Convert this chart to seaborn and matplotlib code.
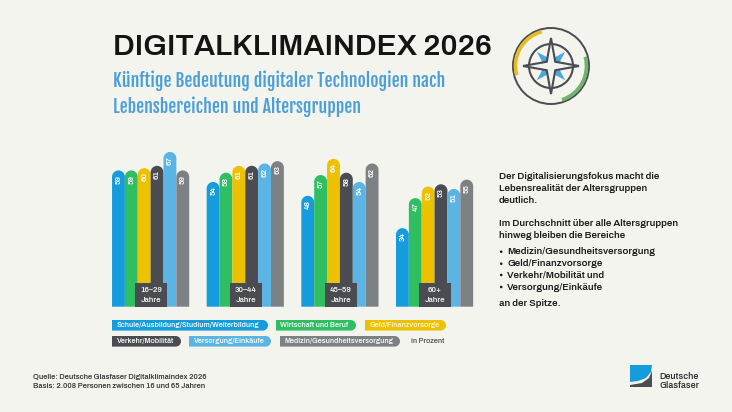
import matplotlib
matplotlib.use("Agg")
import numpy as np, pandas as pd
import matplotlib.pyplot as plt
import seaborn as sns
from matplotlib.path import Path
from matplotlib.patches import PathPatch, Circle, Arc, Rectangle, Polygon

ages = ["16–29", "30–44", "45–59", "60+"]
schule = [59, 54, 48, 34]
wirtschaft = [59, 58, 57, 47]
geld = [60, 61, 64, 52]
verkehr = [61, 61, 58, 53]
versorgung = [67, 62, 54, 51]
medizin = [59, 63, 62, 55]
names = ["Schule/Ausbildung/Studium/Weiterbildung", "Wirtschaft und Beruf", "Geld/Finanzvorsorge",
         "Verkehr/Mobilität", "Versorgung/Einkäufe", "Medizin/Gesundheitsversorgung"]
colors = ["#159cdc", "#2fbf62", "#edc100", "#4a4c51", "#5ab5e5", "#7e8184"]
BG = "#f4f4ef"; DARK = "#4a4c51"

sns.set_theme(style="white")
MAIN = ["Archivo", "Inter", "DejaVu Sans"]
plt.rcParams["font.family"] = MAIN

df = pd.DataFrame({"Alter": np.repeat(ages, 6),
                   "Bereich": names * 4,
                   "Wert": np.array([schule, wirtschaft, geld, verkehr, versorgung, medizin]).T.ravel()})

fig = plt.figure(figsize=(7.32, 4.12), dpi=100, facecolor=BG)
W, H = 732, 412
x0, x1, base = 103.3, 481.9, 306.7
ymax = 70; pxu = 2.31
ax = fig.add_axes([x0 / W, (H - base) / H, (x1 - x0) / W, ymax * pxu / H])
sns.barplot(data=df, x="Alter", y="Wert", hue="Bereich", hue_order=names, palette=colors,
            order=ages, saturation=1, width=0.8155, gap=0, legend=False, ax=ax, errorbar=None)
ax.set_xlim(-0.5, 3.5); ax.set_ylim(0, ymax)
ax.axis("off")
sx = (x1 - x0) / 4; sy = pxu

def round_top(x, w, h):
    rx = w / 2; ry = rx * sx / sy; k = 0.5523
    v = [(x, 0), (x, h - ry), (x, h - ry + k * ry), (x + rx - k * rx, h), (x + rx, h),
         (x + rx + k * rx, h), (x + w, h - ry + k * ry), (x + w, h - ry), (x + w, 0), (x, 0)]
    c = [Path.MOVETO, Path.LINETO, Path.CURVE4, Path.CURVE4, Path.CURVE4,
         Path.CURVE4, Path.CURVE4, Path.CURVE4, Path.LINETO, Path.CLOSEPOLY]
    return Path(v, c)

for b in list(ax.patches):
    x, w, h = b.get_x(), b.get_width(), b.get_height()
    if h == 0:
        continue
    fc = b.get_facecolor()
    b.set_visible(False)
    ax.add_patch(PathPatch(round_top(x, w, h), fc=fc, ec="none", lw=0, zorder=2))
    ax.text(x + w / 2, h - 8.6 / sy, f"{int(h)}", rotation=90, ha="center", va="center",
            color="white", fontsize=5.6, fontweight="semibold", zorder=3)

ov = fig.add_axes([0, 0, 1, 1], facecolor="none")
ov.set_xlim(0, W); ov.set_ylim(H, 0); ov.axis("off")
rend = fig.canvas.get_renderer()

def fit_size(s, width, **kw):
    t = ov.text(0, 0, s, fontsize=10, **kw)
    w = t.get_window_extent(rend).width
    t.remove()
    return 10 * width / w

# age boxes
for cx, a in zip([151, 246, 341, 435], ages):
    ov.add_patch(Rectangle((cx - 16.2, 282.7), 32.4, 24, fc=DARK, ec="none"))
    ov.text(cx, 289.7, a, ha="center", va="center", color="#f0f0f0", fontsize=5.6)
    ov.text(cx, 299.5, "Jahre", ha="center", va="center", color="#f0f0f0", fontsize=5.6)

# titles
title = "DIGITALKLIMAINDEX 2026"
ov.text(113, 55, title, fontsize=fit_size(title, 377, fontweight="bold"), fontweight="bold", color="#141414", va="baseline")
sub1, sub2 = "Künftige Bedeutung digitaler Technologien nach", "Lebensbereichen und Altersgruppen"
SUBF = ["Fjalla One", "Roboto", "DejaVu Sans"]
ss = fit_size(sub1, 330, family=SUBF)
ov.text(113, 86.5, sub1, family=SUBF, fontsize=ss, color="#4a9fd9", va="baseline")
ov.text(113, 113, sub2, family=SUBF, fontsize=ss, color="#4a9fd9", va="baseline")

# legend pills
def pill(x, y, w, h, c):
    r = h / 2; k = 0.5523
    v = [(x, y), (x + w - r, y), (x + w - r + k * r, y), (x + w, y + r - k * r), (x + w, y + r),
         (x + w, y + r + k * r), (x + w - r + k * r, y + h), (x + w - r, y + h), (x, y + h), (x, y)]
    cd = [Path.MOVETO, Path.LINETO, Path.CURVE4, Path.CURVE4, Path.CURVE4,
          Path.CURVE4, Path.CURVE4, Path.CURVE4, Path.LINETO, Path.CLOSEPOLY]
    ov.add_patch(PathPatch(Path(v, cd), fc=c, ec="none"))

ls = fit_size(names[0], 142)
spans = [(112, 268, 320), (276, 356, 320), (365, 446, 320), (112, 181, 336), (189, 271, 336), (280, 400, 336)]
for (a, b, y), n, c in zip(spans, names, colors):
    pill(a, y, b - a, 10.6, c)
    ov.text(a + 4.5, y + 5.4, n, color="#f2f6f4" if c != "#edc100" else "#fff6cf", fontsize=ls, va="center")
ov.text(411, 341.4, "in Prozent", color="#55575b", fontsize=ls, va="center")

# right text
TXT = "#1e1e1e"
lines = [(176.7, "Der Digitalisierungsfokus macht die", 499), (188.3, "Lebensrealität der Altersgruppen", 499),
         (200, "deutlich.", 499), (223.3, "Im Durchschnitt über alle Altersgruppen", 499),
         (235.7, "hinweg bleiben die Bereiche", 499), (251.7, "Medizin/Gesundheitsversorgung", 507),
         (263.7, "Geld/Finanzvorsorge", 507), (275, "Verkehr/Mobilität und", 507),
         (287, "Versorgung/Einkäufe", 507), (303.3, "an der Spitze.", 499)]
bs = fit_size(lines[3][1], 177.5, fontweight="medium")
for y, s, x in lines:
    ov.text(x, y, s, fontsize=bs, fontweight="medium", color=TXT, va="center")
for y in [251.7, 263.7, 275, 287]:
    ov.add_patch(Circle((501.2, y), 1.3, fc=TXT, ec="none"))

# source
q1, q2 = "Quelle: Deutsche Glasfaser Digitalklimaindex 2026", "Basis: 2.008 Personen zwischen 16 und 65 Jahren"
qs = fit_size(q1, 174, fontweight="medium")
ov.text(33, 376.7, q1, fontsize=qs, fontweight="medium", color="#3a3a3a", va="center")
ov.text(33, 386, q2, fontsize=qs, fontweight="medium", color="#3a3a3a", va="center")

# compass
cx, cy = 551, 66
ov.add_patch(Circle((cx, cy), 38, fc="none", ec=DARK, lw=1.4))
ov.add_patch(Circle((cx, cy), 22, fc="none", ec=DARK, lw=1.5))
ov.add_patch(Arc((cx, cy), 71, 71, theta1=165, theta2=255, ec="#e5bd20", lw=2.6))
ov.add_patch(Arc((cx, cy), 71, 71, theta1=-15, theta2=72, ec="#6fb36f", lw=2.6))
for ang in [45, 135, 225, 315]:
    a = np.radians(ang); n = np.array([np.cos(a), np.sin(a)]); p = np.array([-n[1], n[0]])
    c = np.array([cx, cy])
    ov.add_patch(Polygon([c + n * 20, c + n * 7 + p * 4, c + n * 7 - p * 4], fc="#4aa8df", ec="none"))
L, t = 28, 6
star = []
for i in range(4):
    a = i * np.pi / 2
    star.append((cx + L * np.cos(a), cy + L * np.sin(a)))
    a2 = a + np.pi / 4
    star.append((cx + t * np.cos(a2), cy + t * np.sin(a2)))
ov.add_patch(Polygon(star, closed=True, fc=BG, ec=DARK, lw=1.5, joinstyle="miter", zorder=4))

# logo
ov.add_patch(Polygon([(630, 365), (652, 365), (651, 372), (646, 378), (638, 381), (630, 382)], fc="#159cdc", ec="none"))
ov.add_patch(Polygon([(630, 387), (652, 387), (652, 371), (649, 378), (642, 383), (630, 385)], fc=DARK, ec="none"))
gs = fit_size("Deutsche", 39, fontweight="medium")
ov.text(659, 376.5, "Deutsche", fontsize=gs, fontweight="medium", color="#333538", va="center")
ov.text(659, 385.5, "Glasfaser", fontsize=gs, fontweight="medium", color="#333538", va="center")

fig.savefig("out.png", dpi=100, facecolor=BG)
